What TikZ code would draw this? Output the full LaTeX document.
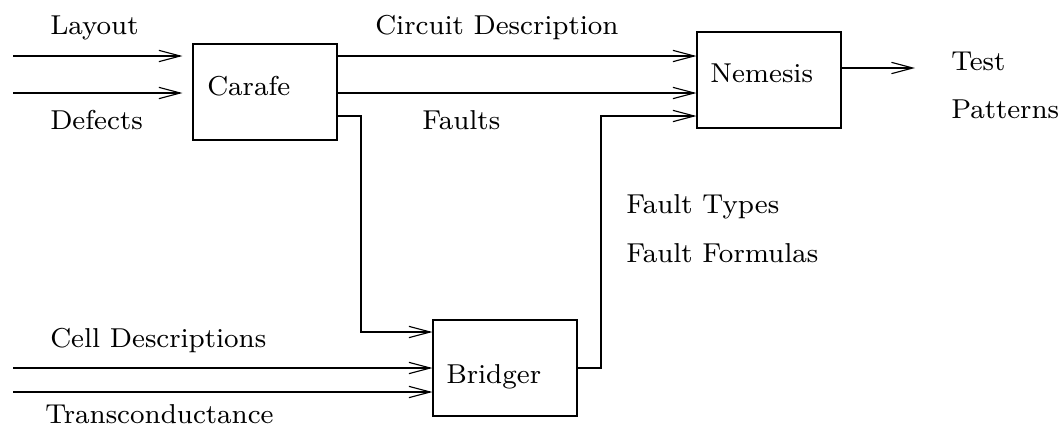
\documentclass[tikz,border=0pt]{standalone}
\usepackage{fontspec}
\newfontfamily\diafont{lmroman8-regular}[Extension=.otf]
\usetikzlibrary{arrows.meta}
\begin{document}
\begin{tikzpicture}[x=0.75pt,y=-0.75pt,
  every node/.style={font=\diafont\fontsize{20.5}{24}\selectfont},
  box/.style={draw,line width=0.85pt,minimum width=108pt,minimum height=72pt,inner sep=0pt},
  txt/.style={anchor=base west,inner sep=0pt},
  wire/.style={line width=0.85pt},
  arr/.style={wire,-{Straight Barb[length=16pt,width=8.5pt,line width=0.85pt]}}]
\useasboundingbox (0,0) rectangle (1059,433);
% boxes
\node[box] (carafe) at (265,92) {};
\node[box] (nemesis) at (769,80) {};
\node[box] (bridger) at (505,368) {};
% box texts
\node[txt] (tcarafe) at (207,95) {Carafe};
\node[txt] (tnemesis) at (710,82) {Nemesis};
\node[txt] (tbridger) at (446,383) {Bridger};
% labels
\node[txt] (tlayout) at (50,34) {Layout};
\node[txt] (tdefects) at (50,129) {Defects};
\node[txt] (tcircuit) at (375,34) {Circuit Description};
\node[txt] (tfaults) at (422,129) {Faults};
\node[txt] (ttest) at (951,70) {Test};
\node[txt] (tpatterns) at (951,118) {Patterns};
\node[txt] (ttypes) at (626,213) {Fault Types};
\node[txt] (tformulas) at (626,262) {Fault Formulas};
\node[txt] (tcell) at (50,347) {Cell Descriptions};
\node[txt] (ttrans) at (45,423) {Transconductance};
% free ends
\coordinate (in1) at (13,56);
\coordinate (in2) at (13,93);
\coordinate (in3) at (13,368);
\coordinate (in4) at (13,392);
\coordinate (c3) at (337,116);
\coordinate (k1) at (361,116);
\coordinate (k2) at (361,332);
\coordinate (b1) at (601,368);
\coordinate (b2) at (601,116);
\coordinate (out) at (915,68);
% connectors
\draw[arr,shorten >=7.5pt] (in1) -- (in1 -| carafe.west);
\draw[arr,shorten >=7.5pt] (in2) -- (in2 -| carafe.west);
\draw[arr] (in1 -| carafe.east) -- (in1 -| nemesis.west);
\draw[arr] (in2 -| carafe.east) -- (in2 -| nemesis.west);
\draw[arr] (c3 -| carafe.east) -- (k1) -- (k2) -- (k2 -| bridger.west);
\draw[arr] (bridger.east) -- (b1) -- (b2) -- (b2 -| nemesis.west);
\draw[arr] (out -| nemesis.east) -- (out);
\draw[arr] (in3) -- (in3 -| bridger.west);
\draw[arr] (in4) -- (in4 -| bridger.west);
\end{tikzpicture}
\end{document}
